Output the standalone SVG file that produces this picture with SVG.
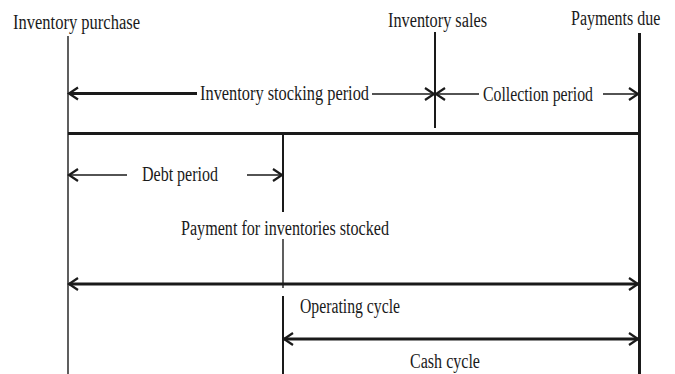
<svg xmlns="http://www.w3.org/2000/svg" width="675" height="374" viewBox="0 0 675 374">
<defs>
<style>
text{font-family:"Liberation Serif","Times New Roman",serif;font-size:20px;fill:#1a1a1a}
.thin{stroke:#1a1a1a;stroke-width:1.4;fill:none}
.mid{stroke:#1a1a1a;stroke-width:2;fill:none}
.thick{stroke:#1a1a1a;stroke-width:3;fill:none}
.arr{marker-end:url(#ah)}
.arr2{marker-start:url(#ah);marker-end:url(#ah)}
.arrs{marker-start:url(#ah)}
</style>
<marker id="ah" markerUnits="userSpaceOnUse" viewBox="-11 -8 13 16" refX="0" refY="0" markerWidth="13" markerHeight="16" orient="auto-start-reverse">
<path d="M-9,-6 L0,0 L-9,6" fill="none" stroke="#1a1a1a" stroke-width="2.2"/>
</marker>
</defs>
<rect width="675" height="374" fill="#fff"/>
<g id="connectors">
<line class="thin" x1="68" y1="36" x2="68" y2="374"/>
<line class="mid" x1="435" y1="32" x2="435" y2="128"/>
<line class="thick" x1="639.5" y1="33" x2="639.5" y2="374"/>
<line class="thick" x1="68" y1="133.5" x2="639.5" y2="133.5"/>
<line class="mid" x1="283" y1="133.5" x2="283" y2="212"/>
<line class="thin" x1="283" y1="239" x2="283" y2="288"/>
<line class="mid" x1="283" y1="296" x2="283" y2="374"/>
<line class="thick arrs" x1="69" y1="93.5" x2="197" y2="93.5"/>
<line class="thin arr" x1="372" y1="94" x2="434" y2="94"/>
<line class="thin arrs" x1="436" y1="94" x2="479" y2="94"/>
<line class="thin arr" x1="603" y1="94" x2="638" y2="94"/>
<line class="thin arrs" x1="69" y1="175" x2="127" y2="175"/>
<line class="thin arr" x1="247" y1="175" x2="282" y2="175"/>
<line class="thick arr2" x1="69" y1="284" x2="638" y2="284"/>
<line class="thick arr2" x1="284" y1="339" x2="638" y2="339"/>
</g>
<g id="inventory-purchase"><text x="13" y="29" textLength="127" lengthAdjust="spacingAndGlyphs">Inventory purchase</text></g>
<g id="inventory-sales"><text x="388" y="26.5" textLength="99" lengthAdjust="spacingAndGlyphs">Inventory sales</text></g>
<g id="payments-due"><text transform="translate(571,25) scale(1,1.25)" x="0" y="0" style="font-size:16px">Payments due</text></g>
<g id="inventory-stocking-period"><text x="200" y="100" textLength="169" lengthAdjust="spacingAndGlyphs">Inventory stocking period</text></g>
<g id="collection-period"><text x="483" y="101" textLength="110" lengthAdjust="spacingAndGlyphs">Collection period</text></g>
<g id="debt-period"><text x="142" y="180.5" textLength="76" lengthAdjust="spacingAndGlyphs">Debt period</text></g>
<g id="payment-for-inventories"><text x="181" y="235" textLength="208" lengthAdjust="spacingAndGlyphs">Payment for inventories stocked</text></g>
<g id="operating-cycle"><text x="300" y="313" textLength="100" lengthAdjust="spacingAndGlyphs">Operating cycle</text></g>
<g id="cash-cycle"><text x="410" y="368" textLength="70" lengthAdjust="spacingAndGlyphs">Cash cycle</text></g>
</svg>
